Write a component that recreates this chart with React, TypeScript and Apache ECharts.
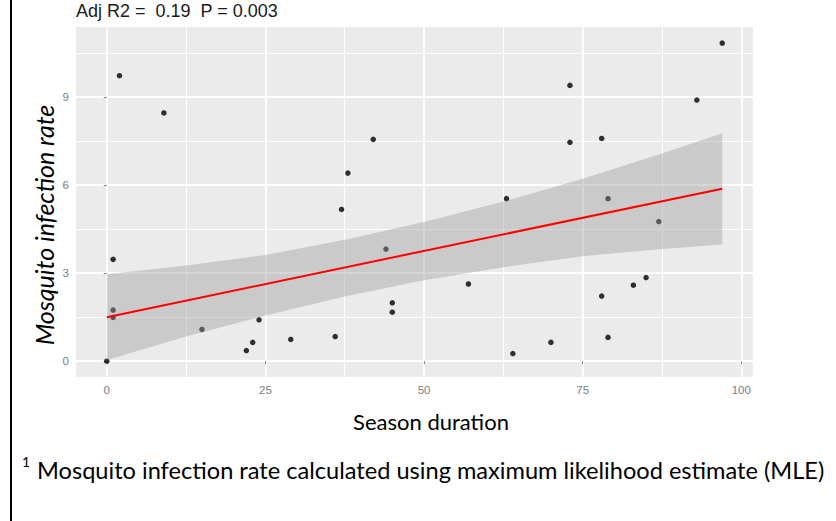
import React, { useEffect, useRef } from "react";
import * as echarts from "echarts";

// ---- data ----
const seasonDuration = [
  0, 1, 1, 1, 2, 9, 15, 22, 23, 24, 29, 36, 37, 38, 42, 44, 45, 45,
  57, 63, 64, 70, 73, 73, 78, 78, 79, 79, 83, 85, 87, 93, 97,
];
const infectionRate = [
  0, 3.47, 1.74, 1.49, 9.73, 8.46, 1.08, 0.36, 0.64, 1.41, 0.74, 0.84, 5.17, 6.41, 7.56, 3.82, 1.99, 1.67,
  2.63, 5.54, 0.26, 0.64, 9.4, 7.46, 7.59, 2.22, 5.54, 0.81, 2.59, 2.85, 4.76, 8.9, 10.84,
];
const fitX = [0, 97];
const fitY = [1.5, 5.88];
const bandX = [0, 12.5, 25, 37.5, 50, 62.5, 75, 87.5, 97];
const bandLow = [0.04, 0.84, 1.56, 2.2, 2.76, 3.2, 3.58, 3.82, 3.98];
const bandUp = [2.96, 3.26, 3.62, 4.14, 4.74, 5.44, 6.22, 7.08, 7.77];
const xMajor = [0, 25, 50, 75, 100];
const xMinor = [12.5, 37.5, 62.5, 87.5];
const yMajor = [0, 3, 6, 9];
const yMinor = [1.5, 4.5, 7.5, 10.5];
const titleText = "Adj R2 =  0.19  P = 0.003";
const xTitle = "Season duration";
const yTitle = "Mosquito infection rate";
const footnote = "Mosquito infection rate calculated using maximum likelihood estimate (MLE)";

const X_MIN = -4.85;
const X_MAX = 101.85;
const Y_MIN = -0.54;
const Y_MAX = 11.39;

export default function App() {
  const ref = useRef<HTMLDivElement>(null);
  useEffect(() => {
    if (!ref.current) return;
    const chart = echarts.init(ref.current, null, { renderer: "svg" });
    const tickFont = { fontFamily: "Liberation Sans, Arial, sans-serif", fontSize: 11.5, color: "#7a7e88" };
    const scatterData = seasonDuration.map((x, i) => [x, infectionRate[i]]);
    const lineData = fitX.map((x, i) => [x, fitY[i]]);
    const bandData = bandX.map((x, i) => [x, bandLow[i], bandUp[i]]);
    const majorX = {
      type: "value",
      gridIndex: 0,
      position: "bottom",
      offset: 0,
      min: X_MIN,
      max: X_MAX,
      axisLine: { show: false },
      axisTick: { show: true, length: 3, lineStyle: { color: "#8a8a8a", width: 1 }, customValues: xMajor },
      axisLabel: { show: true, margin: 7, ...tickFont, customValues: xMajor },
      splitLine: { show: true, lineStyle: { color: "#ffffff", width: 1.8 } },
    };
    const minorX = {
      type: "value",
      gridIndex: 0,
      position: "bottom",
      offset: 0,
      min: X_MIN,
      max: X_MAX,
      axisLine: { show: false },
      axisTick: { show: false, customValues: xMinor },
      axisLabel: { show: false, customValues: xMinor },
      splitLine: { show: true, lineStyle: { color: "#ffffff", width: 1.1 } },
    };
    const majorY = {
      type: "value",
      gridIndex: 0,
      position: "left",
      offset: 0,
      min: Y_MIN,
      max: Y_MAX,
      axisLine: { show: false },
      axisTick: { show: true, length: 3, lineStyle: { color: "#8a8a8a", width: 1 }, customValues: yMajor },
      axisLabel: { show: true, margin: 7, ...tickFont, customValues: yMajor },
      splitLine: { show: true, lineStyle: { color: "#ffffff", width: 1.8 } },
    };
    const minorY = {
      type: "value",
      gridIndex: 0,
      position: "left",
      offset: 0,
      min: Y_MIN,
      max: Y_MAX,
      axisLine: { show: false },
      axisTick: { show: false, customValues: yMinor },
      axisLabel: { show: false, customValues: yMinor },
      splitLine: { show: true, lineStyle: { color: "#ffffff", width: 1.1 } },
    };
    chart.setOption({
      animation: false,
      backgroundColor: "#ffffff",
      grid: {
        left: 76,
        top: 27,
        right: 83,
        bottom: 144,
        show: true,
        backgroundColor: "#EBEBEB",
        borderWidth: 0,
      },
      xAxis: [minorX, majorX],
      yAxis: [minorY, majorY],
      series: [
        {
          type: "scatter",
          xAxisIndex: 1,
          yAxisIndex: 1,
          data: scatterData,
          symbol: "circle",
          symbolSize: 5.5,
          itemStyle: { color: "#000000" },
          z: 2,
          silent: true,
        },
        {
          type: "custom",
          xAxisIndex: 1,
          yAxisIndex: 1,
          data: bandData,
          encode: { x: 0, y: [1, 2] },
          z: 3,
          silent: true,
          renderItem: (params: any, api: any) => {
            if (params.dataIndex !== 0) return { type: "group", children: [] };
            const upper = bandX.map((x, i) => api.coord([x, bandUp[i]]));
            const lower = bandX.map((x, i) => api.coord([x, bandLow[i]])).reverse();
            return {
              type: "polygon",
              shape: { points: upper.concat(lower) },
              style: { fill: "rgba(153,153,153,0.4)", stroke: "none" },
            };
          },
        },
        {
          type: "line",
          xAxisIndex: 1,
          yAxisIndex: 1,
          data: lineData,
          symbol: "none",
          lineStyle: { color: "#ff0000", width: 2 },
          z: 4,
          silent: true,
        },
      ],
      graphic: [
        {
          type: "rect",
          shape: { x: 10, y: 0, width: 2, height: 521 },
          style: { fill: "#000000" },
        },
        {
          type: "text",
          x: 76,
          y: 11,
          style: {
            text: titleText,
            fontFamily: "Liberation Sans, Arial, sans-serif",
            fontSize: 18,
            fill: "#1a1a1a",
            textAlign: "left",
            textVerticalAlign: "middle",
          },
        },
        {
          type: "text",
          x: 44,
          y: 225,
          rotation: Math.PI / 2,
          style: {
            text: yTitle,
            fontFamily: "Lato, sans-serif",
            fontStyle: "italic",
            fontSize: 25,
            fill: "#000000",
            textAlign: "center",
            textVerticalAlign: "middle",
          },
        },
        {
          type: "text",
          x: 431,
          y: 421,
          style: {
            text: xTitle,
            fontFamily: "Lato, sans-serif",
            fontSize: 22,
            fill: "#000000",
            textAlign: "center",
            textVerticalAlign: "middle",
          },
        },
        {
          type: "text",
          x: 22,
          y: 461,
          style: {
            text: "1",
            fontFamily: "Lato, sans-serif",
            fontSize: 14,
            fill: "#000000",
            textAlign: "left",
            textVerticalAlign: "middle",
          },
        },
        {
          type: "text",
          x: 37,
          y: 470,
          style: {
            text: footnote,
            fontFamily: "Lato, sans-serif",
            fontSize: 23.6,
            fill: "#000000",
            textAlign: "left",
            textVerticalAlign: "middle",
          },
        },
      ],
    });
    return () => chart.dispose();
  }, []);
  return (
    <div
      ref={ref}
      style={{ position: "absolute", left: 0, top: 0, width: 836, height: 521, background: "#fff" }}
    />
  );
}
